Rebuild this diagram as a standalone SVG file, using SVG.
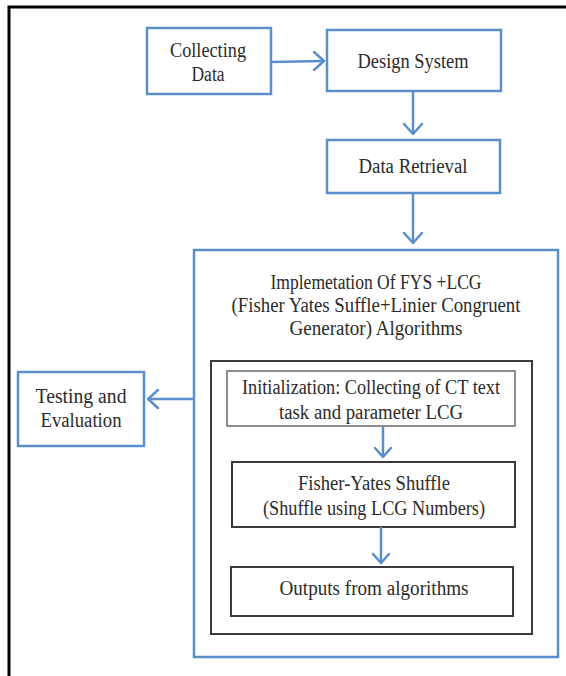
<svg xmlns="http://www.w3.org/2000/svg" width="566" height="676" viewBox="0 0 566 676">
  <defs>
    <style>
      .frame { fill: none; stroke: #000; stroke-width: 3; }
      .blue { fill: #fff; stroke: #5b8fcc; stroke-width: 2.5; }
      .dark { fill: #fff; stroke: #3a3a3a; stroke-width: 2; }
      .grey { fill: #fff; stroke: #6a6a6a; stroke-width: 1.5; }
      .link { fill: none; stroke: #5b8fcc; stroke-width: 2.5; }
      .head { fill: none; stroke: #5b8fcc; stroke-width: 2.5; stroke-linecap: round; stroke-linejoin: round; }
      text { font-family: "Liberation Serif", "DejaVu Serif", serif; font-size: 20.5px; fill: #2b2b2b; text-anchor: middle; }
    </style>
  </defs>

  <rect width="566" height="676" fill="#fff"/>
  <!-- page frame: top and left rules only -->
  <path class="frame" d="M9 676 V7 H566"/>

  <g id="collecting-data">
    <rect class="blue" x="147" y="28" width="124" height="66"/>
    <text x="208" y="57" textLength="76" lengthAdjust="spacingAndGlyphs">Collecting</text>
    <text x="208" y="81" textLength="33" lengthAdjust="spacingAndGlyphs">Data</text>
  </g>

  <g id="design-system">
    <rect class="blue" x="327" y="30" width="174" height="61"/>
    <text x="413" y="68" textLength="111" lengthAdjust="spacingAndGlyphs">Design System</text>
  </g>

  <g id="data-retrieval">
    <rect class="blue" x="327" y="140" width="173" height="53"/>
    <text x="413" y="173" textLength="109" lengthAdjust="spacingAndGlyphs">Data Retrieval</text>
  </g>

  <g id="implementation">
    <rect class="blue" x="194" y="250" width="364" height="407"/>
    <text x="376" y="289" textLength="211" lengthAdjust="spacingAndGlyphs">Implemetation Of FYS +LCG</text>
    <text x="376" y="312" textLength="289" lengthAdjust="spacingAndGlyphs">(Fisher Yates Suffle+Linier Congruent</text>
    <text x="376" y="335" textLength="173" lengthAdjust="spacingAndGlyphs">Generator) Algorithms</text>

    <g id="algorithm-steps">
      <rect class="dark" x="211" y="361" width="321" height="273"/>

      <g id="initialization">
        <rect class="grey" x="227" y="371" width="288" height="55"/>
        <text x="371" y="394" textLength="258" lengthAdjust="spacingAndGlyphs">Initialization: Collecting of CT text</text>
        <text x="371" y="419" textLength="184" lengthAdjust="spacingAndGlyphs">task and parameter LCG</text>
      </g>

      <g id="fisher-yates">
        <rect class="dark" x="232" y="462" width="283" height="65"/>
        <text x="374" y="490" textLength="152" lengthAdjust="spacingAndGlyphs">Fisher-Yates Shuffle</text>
        <text x="374" y="515" textLength="222" lengthAdjust="spacingAndGlyphs">(Shuffle using LCG Numbers)</text>
      </g>

      <g id="outputs">
        <rect class="dark" x="231" y="567" width="282" height="49"/>
        <text x="374" y="595" textLength="189" lengthAdjust="spacingAndGlyphs">Outputs from algorithms</text>
      </g>
    </g>
  </g>

  <g id="testing-evaluation">
    <rect class="blue" x="18" y="372" width="126" height="74"/>
    <text x="81" y="403" textLength="91" lengthAdjust="spacingAndGlyphs">Testing and</text>
    <text x="81" y="427" textLength="81" lengthAdjust="spacingAndGlyphs">Evaluation</text>
  </g>

  <g id="connectors">
    <!-- Collecting Data -> Design System -->
    <path class="link" d="M271 62 L324 61"/>
    <path class="head" d="M314 52 L324 61 L314 70"/>
    <!-- Design System -> Data Retrieval -->
    <path class="link" d="M413 91 V134"/>
    <path class="head" d="M404 124 L413 134 L422 124"/>
    <!-- Data Retrieval -> Implementation -->
    <path class="link" d="M413 193 V243"/>
    <path class="head" d="M404 233 L413 243 L422 233"/>
    <!-- Implementation -> Testing and Evaluation -->
    <path class="link" d="M194 399 H148"/>
    <path class="head" d="M158 390 L148 399 L158 408"/>
    <!-- Initialization -> Fisher-Yates -->
    <path class="link" d="M383 426 V457"/>
    <path class="head" d="M375 448 L383 457 L391 448"/>
    <!-- Fisher-Yates -> Outputs -->
    <path class="link" d="M381 527 V563"/>
    <path class="head" d="M373 554 L381 563 L389 554"/>
  </g>
</svg>
